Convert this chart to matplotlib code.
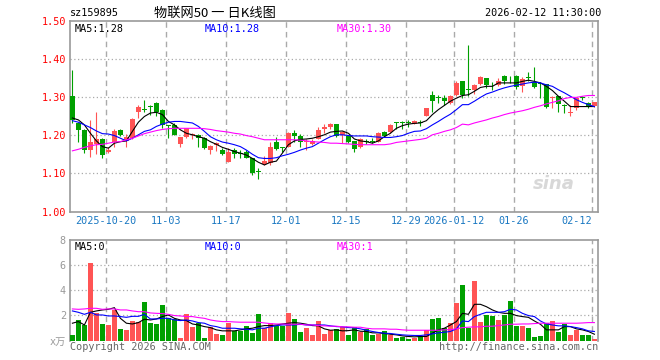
import numpy as np
import matplotlib
matplotlib.use("Agg")
import matplotlib.pyplot as plt

# daily candles, index 0 = 2025-10-10 ... index 87 = 2026-02-12
opens = [1.302, 1.232, 1.214, 1.160, 1.178, 1.190, 1.155, 1.183, 1.214, 1.185,
         1.192, 1.261, 1.268, 1.277, 1.285, 1.267, 1.226, 1.226, 1.176, 1.196,
         1.201, 1.201, 1.192, 1.161, 1.173, 1.161, 1.129, 1.161, 1.152, 1.155,
         1.139, 1.105, 1.124, 1.126, 1.183, 1.167, 1.170, 1.206, 1.199, 1.181,
         1.176, 1.190, 1.217, 1.222, 1.229, 1.201, 1.199, 1.185, 1.170, 1.184,
         1.183, 1.183, 1.209, 1.209, 1.234, 1.233, 1.233, 1.230, 1.233, 1.251,
         1.304, 1.298, 1.297, 1.284, 1.304, 1.341, 1.320, 1.319, 1.334, 1.350,
         1.329, 1.332, 1.356, 1.355, 1.356, 1.330, 1.352, 1.339, 1.336, 1.334,
         1.298, 1.302, 1.278, 1.259, 1.270, 1.298, 1.284, 1.276]
closes = [1.240, 1.214, 1.160, 1.183, 1.190, 1.147, 1.161, 1.211, 1.201, 1.196,
          1.243, 1.275, 1.266, 1.275, 1.261, 1.226, 1.225, 1.201, 1.194, 1.218,
          1.204, 1.192, 1.166, 1.172, 1.179, 1.151, 1.157, 1.151, 1.151, 1.141,
          1.102, 1.104, 1.132, 1.169, 1.164, 1.166, 1.207, 1.199, 1.181, 1.185,
          1.185, 1.214, 1.221, 1.228, 1.198, 1.208, 1.181, 1.164, 1.190, 1.183,
          1.182, 1.207, 1.199, 1.227, 1.233, 1.232, 1.232, 1.236, 1.232, 1.270,
          1.290, 1.297, 1.289, 1.302, 1.337, 1.304, 1.319, 1.332, 1.352, 1.332,
          1.328, 1.343, 1.343, 1.354, 1.325, 1.347, 1.351, 1.325, 1.335, 1.275,
          1.300, 1.281, 1.277, 1.261, 1.297, 1.297, 1.275, 1.286]
highs = [1.372, 1.234, 1.216, 1.240, 1.262, 1.192, 1.170, 1.217, 1.215, 1.204,
         1.244, 1.278, 1.293, 1.280, 1.286, 1.268, 1.227, 1.232, 1.195, 1.219,
         1.205, 1.203, 1.195, 1.173, 1.182, 1.166, 1.166, 1.166, 1.162, 1.161,
         1.141, 1.113, 1.146, 1.183, 1.196, 1.170, 1.208, 1.213, 1.203, 1.190,
         1.190, 1.222, 1.230, 1.233, 1.230, 1.210, 1.201, 1.186, 1.192, 1.190,
         1.192, 1.208, 1.210, 1.229, 1.235, 1.236, 1.241, 1.239, 1.241, 1.271,
         1.315, 1.306, 1.304, 1.304, 1.343, 1.342, 1.436, 1.333, 1.354, 1.351,
         1.339, 1.350, 1.357, 1.356, 1.357, 1.352, 1.365, 1.379, 1.339, 1.335,
         1.302, 1.303, 1.282, 1.279, 1.298, 1.302, 1.286, 1.287]
lows = [1.232, 1.182, 1.153, 1.144, 1.150, 1.141, 1.153, 1.170, 1.197, 1.170,
        1.190, 1.246, 1.261, 1.254, 1.249, 1.218, 1.192, 1.200, 1.170, 1.192,
        1.190, 1.170, 1.163, 1.150, 1.159, 1.148, 1.129, 1.141, 1.141, 1.139,
        1.096, 1.085, 1.122, 1.122, 1.161, 1.155, 1.170, 1.183, 1.168, 1.161,
        1.175, 1.190, 1.207, 1.217, 1.194, 1.179, 1.179, 1.157, 1.166, 1.176,
        1.179, 1.181, 1.198, 1.207, 1.217, 1.217, 1.221, 1.228, 1.223, 1.249,
        1.262, 1.284, 1.280, 1.282, 1.302, 1.297, 1.302, 1.308, 1.332, 1.324,
        1.319, 1.328, 1.334, 1.337, 1.322, 1.313, 1.341, 1.323, 1.297, 1.272,
        1.272, 1.261, 1.259, 1.250, 1.267, 1.293, 1.271, 1.274]

# price moving averages as drawn
ma5 = [1.245, 1.240, 1.227, 1.205, 1.185, 1.170, 1.166, 1.179, 1.183, 1.185,
       1.210, 1.234, 1.249, 1.258, 1.260, 1.254, 1.236, 1.227, 1.214, 1.205,
       1.201, 1.196, 1.192, 1.183, 1.176, 1.168, 1.163, 1.157, 1.153, 1.148,
       1.139, 1.129, 1.122, 1.129, 1.132, 1.153, 1.175, 1.185, 1.189, 1.190,
       1.192, 1.196, 1.201, 1.208, 1.210, 1.211, 1.205, 1.190, 1.185, 1.183,
       1.179, 1.185, 1.196, 1.205, 1.218, 1.225, 1.229, 1.231, 1.232, 1.238,
       1.254, 1.267, 1.278, 1.289, 1.297, 1.304, 1.306, 1.315, 1.325, 1.328,
       1.328, 1.337, 1.337, 1.337, 1.337, 1.341, 1.344, 1.341, 1.337, 1.328,
       1.317, 1.302, 1.289, 1.275, 1.275, 1.275, 1.275, 1.275]
ma10 = [1.238, 1.234, 1.227, 1.220, 1.211, 1.204, 1.203, 1.199, 1.192, 1.185,
        1.192, 1.201, 1.210, 1.214, 1.223, 1.229, 1.234, 1.236, 1.236, 1.234,
        1.232, 1.223, 1.210, 1.196, 1.188, 1.182, 1.179, 1.175, 1.170, 1.161,
        1.150, 1.141, 1.139, 1.139, 1.141, 1.146, 1.150, 1.155, 1.161, 1.166,
        1.170, 1.179, 1.188, 1.196, 1.201, 1.201, 1.199, 1.198, 1.198, 1.198,
        1.196, 1.195, 1.194, 1.194, 1.196, 1.199, 1.205, 1.210, 1.211, 1.217,
        1.227, 1.236, 1.246, 1.255, 1.267, 1.280, 1.280, 1.289, 1.299, 1.308,
        1.313, 1.319, 1.324, 1.328, 1.331, 1.334, 1.337, 1.339, 1.337, 1.332,
        1.328, 1.319, 1.311, 1.302, 1.293, 1.286, 1.280, 1.275]
ma30 = [1.159, 1.163, 1.168, 1.172, 1.175, 1.176, 1.179, 1.182, 1.183, 1.188,
        1.192, 1.198, 1.204, 1.208, 1.212, 1.215, 1.217, 1.218, 1.218, 1.218,
        1.218, 1.218, 1.217, 1.215, 1.212, 1.210, 1.208, 1.205, 1.203, 1.199,
        1.196, 1.192, 1.188, 1.188, 1.188, 1.188, 1.188, 1.188, 1.187, 1.185,
        1.183, 1.182, 1.181, 1.179, 1.179, 1.178, 1.177, 1.176, 1.175, 1.175,
        1.175, 1.175, 1.175, 1.177, 1.181, 1.183, 1.185, 1.187, 1.189, 1.192,
        1.201, 1.205, 1.210, 1.214, 1.220, 1.229, 1.227, 1.232, 1.236, 1.240,
        1.245, 1.249, 1.254, 1.258, 1.261, 1.264, 1.268, 1.273, 1.277, 1.282,
        1.286, 1.290, 1.296, 1.299, 1.299, 1.302, 1.304, 1.304]

# volume (x 10k)
volume = [0.45, 1.64, 1.24, 6.19, 2.20, 1.32, 1.24, 2.40, 0.93, 0.85,
          1.56, 1.46, 3.07, 1.43, 1.32, 2.83, 1.77, 1.72, 0.21, 2.12,
          1.11, 1.43, 0.21, 1.11, 0.53, 0.45, 1.40, 0.77, 0.72, 1.17,
          0.61, 2.12, 1.03, 1.40, 1.19, 1.19, 2.20, 1.72, 0.69, 1.03,
          0.45, 1.56, 0.53, 0.82, 0.93, 1.11, 0.45, 1.11, 0.64, 0.93,
          0.45, 0.53, 0.74, 0.45, 0.16, 0.24, 0.13, 0.19, 0.32, 0.82,
          1.75, 1.83, 1.03, 1.40, 2.99, 4.45, 0.98, 4.77, 1.48, 2.04,
          1.96, 1.64, 2.04, 3.15, 1.19, 1.17, 1.01, 0.29, 0.37, 1.40,
          1.56, 0.69, 1.32, 0.45, 0.87, 0.45, 0.45, 0.13]
vol_ma5 = [1.38, 1.51, 1.24, 2.25, 2.36, 2.44, 2.49, 2.62, 1.77, 1.38,
           1.32, 1.43, 1.70, 1.64, 1.72, 1.91, 2.04, 1.77, 1.64, 1.59,
           1.32, 1.24, 1.11, 1.03, 0.85, 0.77, 0.77, 0.77, 0.85, 0.93,
           0.98, 1.11, 1.19, 1.19, 1.24, 1.32, 1.38, 1.43, 1.38, 1.30,
           1.19, 1.17, 0.93, 0.82, 0.85, 0.77, 0.79, 0.85, 0.74, 0.72,
           0.61, 0.61, 0.56, 0.50, 0.45, 0.37, 0.32, 0.29, 0.32, 0.32,
           0.58, 0.85, 0.98, 1.24, 1.51, 2.17, 2.09, 2.89, 2.89, 2.70,
           2.44, 2.25, 2.17, 2.17, 1.99, 1.91, 1.85, 1.56, 1.30, 0.85,
           0.85, 0.85, 1.11, 1.11, 0.93, 0.85, 0.72, 0.50]
vol_ma10 = [2.36, 2.25, 2.09, 2.25, 2.04, 2.04, 1.96, 1.96, 1.91, 1.85,
            1.93, 1.93, 2.09, 1.72, 1.72, 1.77, 1.77, 1.64, 1.59, 1.64,
            1.56, 1.43, 1.38, 1.19, 1.11, 0.98, 0.98, 0.98, 0.93, 0.90,
            0.85, 0.98, 0.98, 1.09, 1.19, 1.24, 1.24, 1.24, 1.30, 1.24,
            1.24, 1.24, 1.24, 1.17, 1.11, 1.09, 1.03, 1.01, 0.93, 0.82,
            0.72, 0.64, 0.58, 0.56, 0.50, 0.45, 0.42, 0.40, 0.40, 0.45,
            0.53, 0.61, 0.66, 0.72, 0.93, 1.56, 1.51, 1.91, 2.09, 2.25,
            2.25, 2.25, 2.30, 2.49, 2.44, 2.17, 1.99, 1.91, 1.56, 1.32,
            1.24, 1.17, 1.17, 1.11, 1.03, 0.93, 0.77, 0.72]
vol_ma30 = [2.52, 2.49, 2.52, 2.57, 2.57, 2.49, 2.52, 2.52, 2.44, 2.44,
            2.36, 2.30, 2.30, 2.20, 2.17, 2.15, 2.09, 1.99, 1.96, 1.91,
            1.91, 1.83, 1.77, 1.64, 1.56, 1.51, 1.51, 1.48, 1.46, 1.46,
            1.46, 1.46, 1.40, 1.35, 1.32, 1.32, 1.30, 1.30, 1.30, 1.24,
            1.24, 1.19, 1.17, 1.14, 1.14, 1.09, 1.09, 1.06, 1.06, 0.98,
            0.93, 0.93, 0.93, 0.90, 0.90, 0.85, 0.82, 0.82, 0.82, 0.82,
            0.82, 0.82, 0.85, 0.87, 0.93, 1.03, 1.06, 1.09, 1.09, 1.14,
            1.14, 1.19, 1.24, 1.30, 1.30, 1.32, 1.32, 1.35, 1.38, 1.38,
            1.38, 1.38, 1.38, 1.38, 1.38, 1.40, 1.43, 1.43]

date_ticks = [6, 16, 26, 36, 46, 56, 64, 74, 87]
date_labels = ["2025-10-20", "11-03", "11-17", "12-01", "12-15",
               "12-29", "2026-01-12", "01-26", "02-12"]

RED = "#ff5454"
GREEN = "#00a000"
GRID = "#aaaaaa"
FRAME = "#999999"
MONO = "DejaVu Sans Mono"

o = np.array(opens)
c = np.array(closes)
h = np.array(highs)
l = np.array(lows)
x = np.arange(len(o))
up = c >= o
colors = np.where(up, RED, GREEN)

fig = plt.figure(figsize=(6.6, 3.6), dpi=100)
ax = fig.add_axes([70 / 660, 1 - 211.5 / 360, 528 / 660, 190.8 / 360])
axv = fig.add_axes([70 / 660, 1 - 340.5 / 360, 528 / 660, 100.2 / 360])

xlim = (-0.4, 87.6)

# price panel
ax.vlines(x, l, h, colors=colors, linewidth=0.8, zorder=3)
body_bottom = np.minimum(o, c)
body_h = np.maximum(np.abs(c - o), 0.0018)
ax.bar(x, body_h, bottom=body_bottom, width=0.78, color=colors,
       linewidth=0, zorder=4)
ax.plot(x, ma5, color="black", lw=0.8, zorder=5)
ax.plot(x, ma10, color="#0000ff", lw=0.8, zorder=5)
ax.plot(x, ma30, color="#ff00ff", lw=0.8, zorder=5)

ax.set_xlim(*xlim)
ax.set_ylim(1.0, 1.5)
yt = [1.0, 1.1, 1.2, 1.3, 1.4, 1.5]
ax.set_yticks(yt)
ax.set_yticklabels([f"{v:.2f}" for v in yt], color="red", family=MONO, fontsize=7.3)
for v in [1.1, 1.2, 1.3, 1.4]:
    ax.axhline(v, color=GRID, lw=0.9, ls=(0, (1, 2)), zorder=1)
for t in date_ticks:
    ax.axvline(t - 0.4, color=GRID, lw=1.0, ls=(0, (4, 3)), zorder=1)
ax.set_xticks([t - 0.4 for t in date_ticks])
ax.set_xticklabels(date_labels, color="#1a78c2", family=MONO, fontsize=7.3)
lbls = ax.get_xticklabels()
lbls[-1].set_ha("right")
ax.tick_params(length=0, pad=3)
for s in ax.spines.values():
    s.set_color(FRAME)
    s.set_linewidth(1.2)

ax.text(0.008, 0.985, "MA5:1.28", transform=ax.transAxes, ha="left", va="top",
        family=MONO, fontsize=7.3, color="black")
ax.text(0.255, 0.985, "MA10:1.28", transform=ax.transAxes, ha="left", va="top",
        family=MONO, fontsize=7.3, color="#0000ff")
ax.text(0.505, 0.985, "MA30:1.30", transform=ax.transAxes, ha="left", va="top",
        family=MONO, fontsize=7.3, color="#ff00ff")
ax.text(0.955, 0.095, "sina", transform=ax.transAxes, ha="right", va="bottom",
        fontsize=13, fontweight="bold", style="italic", color="#d8d8d8", zorder=0)

# header
fig.text(70 / 660, 1 - 13 / 360, "sz159895", family=MONO, fontsize=7.3,
         ha="left", va="center")
fig.text(215 / 660, 1 - 13 / 360, "物联网50 一 日K线图",
         family=["Noto Sans CJK SC", "DejaVu Sans"], fontsize=9.5,
         ha="center", va="center")
fig.text(601 / 660, 1 - 13 / 360, "2026-02-12 11:30:00", family=MONO,
         fontsize=7.3, ha="right", va="center")

# volume panel
axv.bar(x, volume, width=0.82, color=colors, linewidth=0, zorder=3)
axv.plot(x, vol_ma5, color="black", lw=0.8, zorder=5)
axv.plot(x, vol_ma10, color="#0000ff", lw=0.8, zorder=5)
axv.plot(x, vol_ma30, color="#ff00ff", lw=0.8, zorder=5)
axv.set_xlim(*xlim)
axv.set_ylim(0, 8)
axv.set_yticks([0, 2, 4, 6, 8])
axv.set_yticklabels(["x万", "2", "4", "6", "8"], color="#999999",
                    family=[MONO, "Noto Sans CJK SC"], fontsize=7.3)
axv.set_xticks([])
axv.tick_params(length=0, pad=3)
for v in [2, 4, 6]:
    axv.axhline(v, color=GRID, lw=0.9, ls=(0, (1, 2)), zorder=1)
for t in date_ticks:
    axv.axvline(t - 0.4, color=GRID, lw=1.0, ls=(0, (4, 3)), zorder=1)
for s in axv.spines.values():
    s.set_color(FRAME)
    s.set_linewidth(1.2)
axv.spines["bottom"].set_visible(False)

axv.text(0.008, 0.985, "MA5:0", transform=axv.transAxes, ha="left", va="top",
         family=MONO, fontsize=7.3, color="black")
axv.text(0.255, 0.985, "MA10:0", transform=axv.transAxes, ha="left", va="top",
         family=MONO, fontsize=7.3, color="#0000ff")
axv.text(0.505, 0.985, "MA30:1", transform=axv.transAxes, ha="left", va="top",
         family=MONO, fontsize=7.3, color="#ff00ff")

fig.text(70 / 660, 1 - 347 / 360, "Copyright 2026 SINA.COM", family=MONO,
         fontsize=7.3, color="#666666", ha="left", va="center")
fig.text(598 / 660, 1 - 347 / 360, "http://finance.sina.com.cn", family=MONO,
         fontsize=7.3, color="#666666", ha="right", va="center")

fig.savefig("out.png", dpi=100, facecolor="white")
